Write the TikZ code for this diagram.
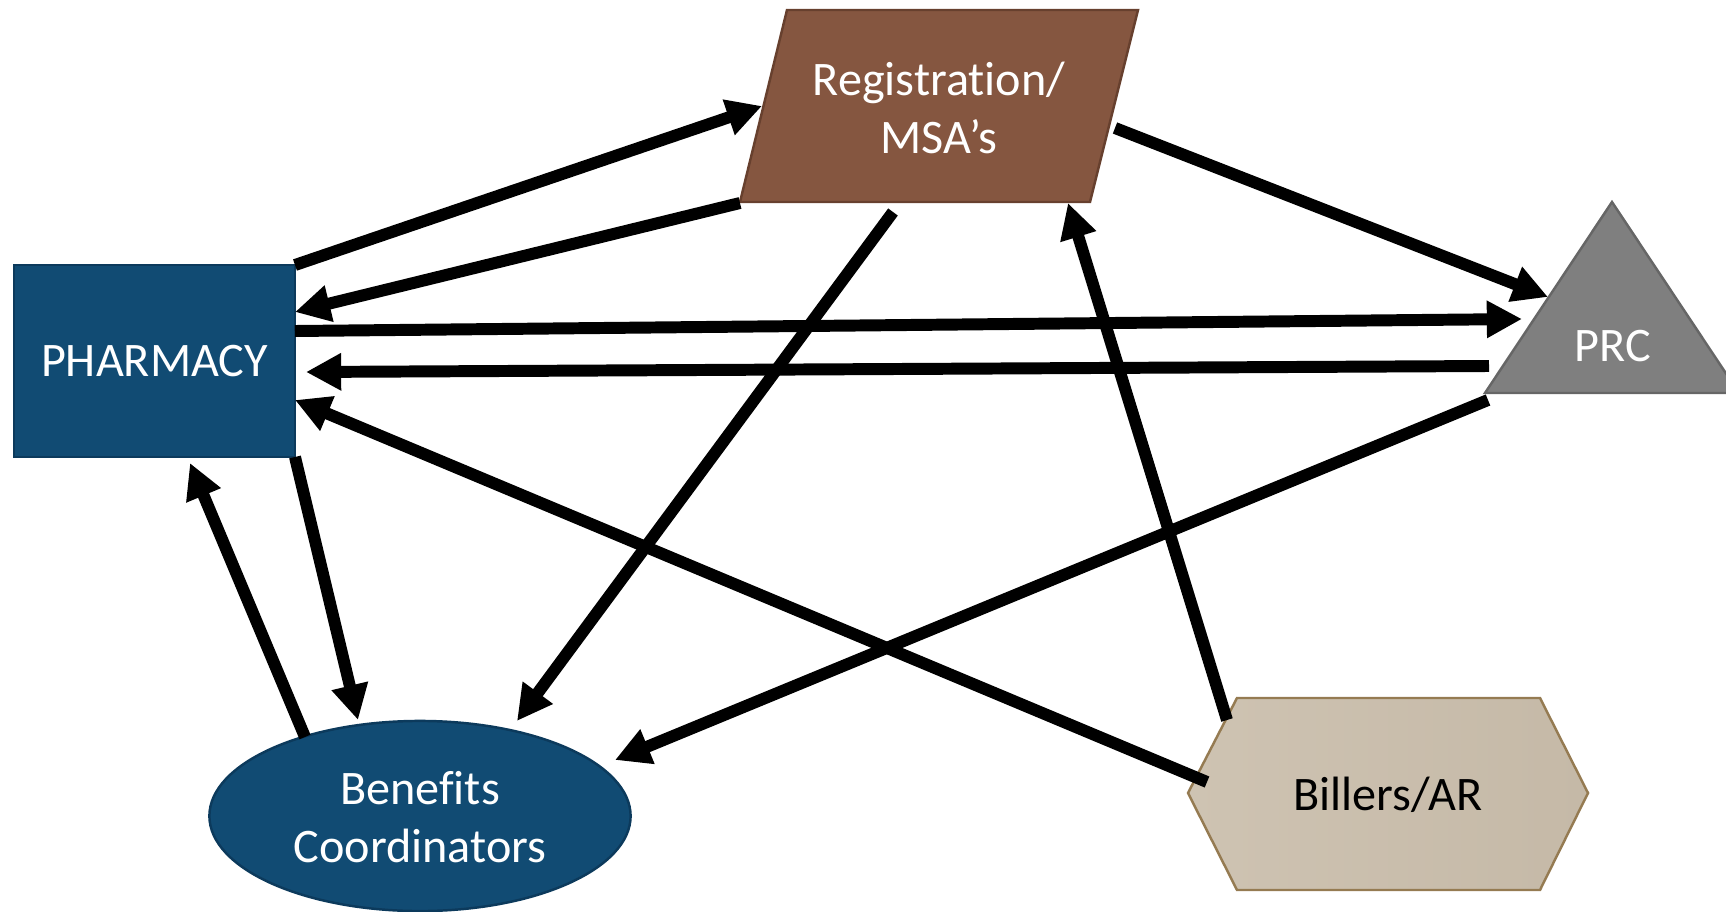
\documentclass[tikz,border=0pt]{standalone}
\usepackage{fontspec}
\setmainfont{Carlito}[Ligatures=NoCommon]
\usetikzlibrary{arrows.meta,shapes.geometric}
\definecolor{navy}{HTML}{114B73}
\definecolor{navyline}{HTML}{0C3A5C}
\definecolor{brownfill}{HTML}{855640}
\definecolor{brownline}{HTML}{67402E}
\definecolor{greyfill}{HTML}{7F7F7F}
\definecolor{greyline}{HTML}{666666}
\definecolor{sandl}{HTML}{CEC3B2}
\definecolor{sandr}{HTML}{C5B9A7}
\definecolor{sandline}{HTML}{957B52}
\begin{document}
\begin{tikzpicture}[x=0.01cm,y=-0.01cm,
  label/.style={font=\fontsize{13.7}{16.6}\selectfont, align=center, inner sep=0pt},
  flow/.style={line width=3.4pt, -{Triangle[length=10pt,width=10pt]}}]
\useasboundingbox (0,0) rectangle (1726,912);
\clip (0,0) rectangle (1726,912);

% Pharmacy box
\node[label, text=white, fill=navy, draw=navyline, line width=0.6pt,
      minimum width=2.81cm, minimum height=1.92cm] (ph) at (154.5,361) {PHARMACY};

% Registration parallelogram
\filldraw[fill=brownfill, draw=brownline, line width=0.7pt]
  (787,10) -- (1138,10) -- (1090,202) -- (740,202) -- cycle;
\node[label, text=white] (rg) at (939,108) {Registration/\\MSA’s};

% PRC triangle
\filldraw[fill=greyfill, draw=greyline, line width=0.7pt]
  (1612,202) -- (1739,393) -- (1485,393) -- cycle;
\node[label, text=white] (prc) at (1613,346) {PRC};

% Benefits coordinators ellipse
\node[ellipse, fill=navy, draw=navyline, line width=0.7pt,
      minimum width=4.21cm, minimum height=1.9cm] (bc) at (420,816) {};
\node[label, text=white] (bct) at (420,817) {Benefits\\Coordinators};

% Billers hexagon
\shade[left color=sandl, right color=sandr]
  (1237,698) -- (1540,698) -- (1588,793) -- (1540,890) -- (1237,890) -- (1188,793) -- cycle;
\draw[draw=sandline, line width=0.7pt]
  (1237,698) -- (1540,698) -- (1588,793) -- (1540,890) -- (1237,890) -- (1188,793) -- cycle;
\node[label, text=black] (bl) at (1388,795) {Billers/AR};

% connector end points on the shapes
\coordinate (ph-a) at (295,265);
\coordinate (ph-b) at (295,312);
\coordinate (ph-c) at (295,331);
\coordinate (ph-d) at (306,372);
\coordinate (ph-e) at (295,400);
\coordinate (ph-f) at (295,457);
\coordinate (ph-g) at (190,463);
\coordinate (rg-a) at (762,106);
\coordinate (rg-b) at (740,203);
\coordinate (rg-c) at (1115,128);
\coordinate (rg-d) at (1068,203);
\coordinate (rg-e) at (893,212);
\coordinate (prc-a) at (1548,297);
\coordinate (prc-b) at (1522,319);
\coordinate (prc-c) at (1489,366);
\coordinate (prc-d) at (1488,400);
\coordinate (bc-a) at (517,721);
\coordinate (bc-b) at (615,760);
\coordinate (bc-c) at (358,720);
\coordinate (bc-d) at (305,737);
\coordinate (bl-a) at (1207,782);
\coordinate (bl-b) at (1227,720);

% flows
\draw[flow] (ph-a) -- (rg-a);
\draw[flow] (rg-b) -- (ph-b);
\draw[flow] (rg-c) -- (prc-a);
\draw[flow] (ph-c) -- (prc-b);
\draw[flow] (prc-c) -- (ph-d);
\draw[flow] (bl-a) -- (ph-e);
\draw[flow] (bl-b) -- (rg-d);
\draw[flow] (rg-e) -- (bc-a);
\draw[flow] (prc-d) -- (bc-b);
\draw[flow] (ph-f) -- (bc-c);
\draw[flow] (bc-d) -- (ph-g);
\end{tikzpicture}
\end{document}
